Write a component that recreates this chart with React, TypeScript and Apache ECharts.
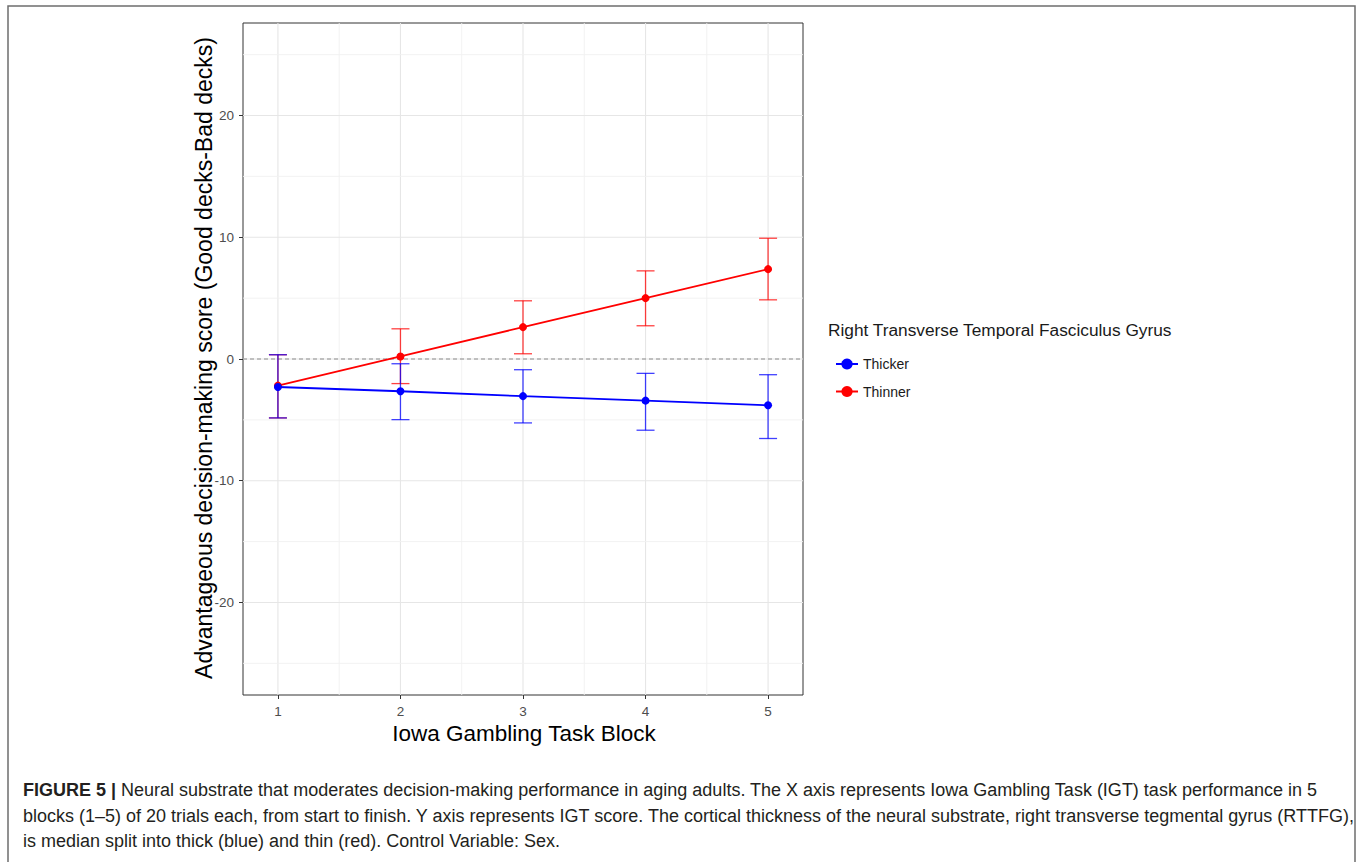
import React, { useEffect, useRef } from "react";
import * as echarts from "echarts";

// ---- data ----
const blocks = [1, 2, 3, 4, 5];
const xTicks = [1, 2, 3, 4, 5];
const yTicks = [-20, -10, 0, 10, 20];
const yMinor = [-25, -15, -5, 5, 15, 25];
const xMinor = [1.5, 2.5, 3.5, 4.5];
const zeroLine = [0];

const thickerMean = [-2.3, -2.65, -3.05, -3.42, -3.8];
const thickerLow = [-4.84, -4.98, -5.25, -5.85, -6.53];
const thickerHigh = [0.35, -0.39, -0.88, -1.18, -1.29];

const thinnerMean = [-2.19, 0.21, 2.62, 5.0, 7.38];
const thinnerLow = [-4.84, -2.02, 0.43, 2.73, 4.86];
const thinnerHigh = [0.35, 2.48, 4.78, 7.24, 9.92];

const seriesNames = ["Thicker", "Thinner"];
const legendTitle = "Right Transverse Temporal Fasciculus Gyrus";
const xTitle = "Iowa Gambling Task Block";
const yTitle = "Advantageous decision-making score (Good decks-Bad decks)";
const captionBold = "FIGURE 5 | ";
const captionLines = [
  "Neural substrate that moderates decision-making performance in aging adults. The X axis represents Iowa Gambling Task (IGT) task performance in 5",
  "blocks (1\u20135) of 20 trials each, from start to finish. Y axis represents IGT score. The cortical thickness of the neural substrate, right transverse tegmental gyrus (RTTFG),",
  "is median split into thick (blue) and thin (red). Control Variable: Sex.",
];

const FONT = "'Liberation Sans', Arial, Helvetica, sans-serif";

export default function App() {
  const ref = useRef<HTMLDivElement>(null);

  useEffect(() => {
    const chart = echarts.init(ref.current as HTMLDivElement, null, { renderer: "svg" });

    const gridData = [
      ...xTicks.map((v) => [0, v, 0]),
      ...xMinor.map((v) => [0, v, 1]),
      ...yTicks.map((v) => [1, v, 0]),
      ...yMinor.map((v) => [1, v, 1]),
      ...zeroLine.map((v) => [1, v, 2]),
    ];

    const errSeries = (name: string, color: string, low: number[], high: number[], z: number) => ({
      type: "custom",
      name,
      z,
      silent: true,
      data: blocks.map((b, i) => [b, low[i], high[i]]),
      encode: { x: 0, y: [1, 2] },
      renderItem: (params: any, api: any) => {
        const x = api.value(0);
        const lo = api.coord([x, api.value(1)]);
        const hi = api.coord([x, api.value(2)]);
        const w = 9;
        const style = { stroke: color, lineWidth: 1.3 };
        return {
          type: "group",
          children: [
            { type: "line", shape: { x1: lo[0], y1: lo[1], x2: hi[0], y2: hi[1] }, style },
            { type: "line", shape: { x1: lo[0] - w, y1: lo[1], x2: lo[0] + w, y2: lo[1] }, style },
            { type: "line", shape: { x1: hi[0] - w, y1: hi[1], x2: hi[0] + w, y2: hi[1] }, style },
          ],
        };
      },
    });

    const option: any = {
      animation: false,
      backgroundColor: "#ffffff",
      textStyle: { fontFamily: FONT },
      grid: {
        left: 243,
        top: 23,
        width: 560,
        height: 672,
        show: true,
        borderColor: "#333333",
        borderWidth: 1,
        backgroundColor: "transparent",
      },
      xAxis: {
        type: "value",
        min: 0.715,
        max: 5.285,
        splitLine: { show: false },
        axisLine: { show: false, onZero: false },
        axisTick: {
          show: true,
          customValues: xTicks,
          length: 4,
          lineStyle: { color: "#333333", width: 1 },
        },
        axisLabel: {
          customValues: xTicks,
          color: "#4d4d4d",
          fontSize: 13.5,
          margin: 9,
          fontFamily: FONT,
        },
      },
      yAxis: {
        type: "value",
        min: -27.6,
        max: 27.6,
        splitLine: { show: false },
        axisLine: { show: false, onZero: false },
        axisTick: {
          show: true,
          customValues: yTicks,
          length: 4,
          lineStyle: { color: "#333333", width: 1 },
        },
        axisLabel: {
          customValues: yTicks,
          color: "#4d4d4d",
          fontSize: 13.5,
          margin: 9,
          fontFamily: FONT,
        },
      },
      legend: {
        data: seriesNames,
        orient: "vertical",
        left: 830,
        top: 352,
        itemWidth: 22,
        itemHeight: 14,
        itemGap: 13.5,
        textStyle: { fontSize: 14, color: "#1a1a1a", fontFamily: FONT },
      },
      series: [
        {
          type: "custom",
          name: "grid",
          z: 0,
          silent: true,
          data: gridData,
          encode: { x: -1, y: -1 },
          renderItem: (params: any, api: any) => {
            const cs = params.coordSys;
            const orient = api.value(0);
            const v = api.value(1);
            const kind = api.value(2);
            const style: any =
              kind === 2
                ? { stroke: "#8c8c8c", lineWidth: 1, lineDash: [4, 3] }
                : kind === 1
                ? { stroke: "#f0f0f0", lineWidth: 0.9 }
                : { stroke: "#e6e6e6", lineWidth: 1.1 };
            if (orient === 0) {
              const p = api.coord([v, 0]);
              return {
                type: "line",
                shape: { x1: p[0], y1: cs.y, x2: p[0], y2: cs.y + cs.height },
                style,
              };
            }
            const p = api.coord([3, v]);
            return {
              type: "line",
              shape: { x1: cs.x, y1: p[1], x2: cs.x + cs.width, y2: p[1] },
              style,
            };
          },
        },
        errSeries("Thinner SE", "rgba(255,0,0,0.75)", thinnerLow, thinnerHigh, 2),
        errSeries("Thicker SE", "rgba(0,0,255,0.75)", thickerLow, thickerHigh, 3),
        {
          type: "line",
          name: "Thinner",
          z: 4,
          data: blocks.map((b, i) => [b, thinnerMean[i]]),
          color: "#ff0000",
          lineStyle: { width: 1.8, color: "#ff0000" },
          itemStyle: { color: "#ff0000" },
          symbol: "circle",
          symbolSize: 8,
          showSymbol: true,
        },
        {
          type: "line",
          name: "Thicker",
          z: 5,
          data: blocks.map((b, i) => [b, thickerMean[i]]),
          color: "#0000ff",
          lineStyle: { width: 1.8, color: "#0000ff" },
          itemStyle: { color: "#0000ff" },
          symbol: "circle",
          symbolSize: 8,
          showSymbol: true,
        },
      ],
      graphic: [
        {
          type: "rect",
          silent: true,
          shape: { x: 8, y: 6, width: 1347, height: 900 },
          style: { fill: "none", stroke: "#6e6e6e", lineWidth: 1.5 },
        },
        {
          type: "text",
          x: 204,
          y: 358,
          rotation: Math.PI / 2,
          style: {
            text: yTitle,
            fontSize: 23,
            fontFamily: FONT,
            fill: "#000000",
            align: "center",
            verticalAlign: "middle",
          },
        },
        {
          type: "text",
          x: 524,
          y: 733,
          style: {
            text: xTitle,
            fontSize: 22.5,
            fontFamily: FONT,
            fill: "#000000",
            align: "center",
            verticalAlign: "middle",
          },
        },
        {
          type: "text",
          x: 828,
          y: 330,
          style: {
            text: legendTitle,
            fontSize: 17.3,
            fontFamily: FONT,
            fill: "#1a1a1a",
            align: "left",
            verticalAlign: "middle",
          },
        },
        ...captionLines.map((line, i) => ({
          type: "text",
          x: 23,
          y: 790 + i * 25.5,
          style: {
            text: i === 0 ? "{b|" + captionBold + "}{r|" + line + "}" : "{r|" + line + "}",
            align: "left",
            verticalAlign: "middle",
            rich: {
              b: { fontSize: 18, fontWeight: "bold", fontFamily: FONT, fill: "#231f20", color: "#231f20" },
              r: { fontSize: 18, fontFamily: FONT, fill: "#231f20", color: "#231f20" },
            },
          },
        })),
      ],
    };

    chart.setOption(option);
    return () => {
      chart.dispose();
    };
  }, []);

  return (
    <div
      ref={ref}
      style={{ position: "absolute", left: 0, top: 0, width: 1357, height: 862 }}
    />
  );
}
